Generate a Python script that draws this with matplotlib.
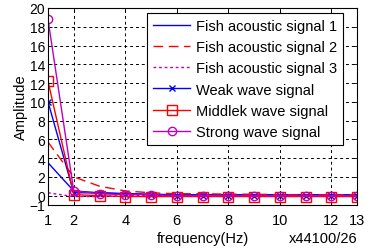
import matplotlib
matplotlib.use("Agg")
import matplotlib.pyplot as plt
import numpy as np

plt.rcParams["font.family"] = ["Liberation Sans", "DejaVu Sans"]
plt.rcParams["font.size"] = 10.5

freq = np.arange(1, 14)
fish1 = [3.5, 0.5, 0.3, 0.2, 0.15, 0.1, 0.1, 0.1, 0.1, 0.1, 0.1, 0.1, 0.1]
fish2 = [5.7, 2.0, 1.0, 0.5, 0.3, 0.2, 0.2, 0.15, 0.15, 0.1, 0.1, 0.1, 0.1]
fish3 = [0.3, -0.1, -0.1, 0.0, 0.0, 0.0, 0.0, 0.0, 0.0, 0.0, 0.0, 0.0, 0.0]
weak = [10.0, 0.3, 0.3, 0.2, 0.1, 0.0, 0.0, 0.0, 0.0, 0.0, 0.0, 0.0, 0.0]
middle = [12.2, 0.1, 0.0, -0.1, -0.1, -0.1, -0.1, -0.1, -0.1, -0.1, -0.1, -0.1, -0.1]
strong = [18.8, 0.5, 0.2, 0.1, 0.1, 0.0, 0.0, 0.0, 0.0, 0.0, 0.0, 0.0, 0.0]

xticks = [1, 2, 4, 6, 8, 10, 12, 13]
yticks = [-1, 0, 2, 4, 6, 8, 10, 12, 14, 16, 18, 20]

fig = plt.figure(figsize=(3.71, 2.53), dpi=100)
ax = fig.add_axes([48 / 371, 1 - 206 / 253, (357 - 48) / 371, (206 - 9) / 253])

ax.plot(freq, fish1, color="blue", lw=1.0, label="Fish acoustic signal 1")
ax.plot(freq, fish2, color="red", lw=1.0, dashes=(7, 4), label="Fish acoustic signal 2")
ax.plot(freq, fish3, color="#bf00bf", lw=1.0, linestyle=(0, (2, 2)), label="Fish acoustic signal 3")
ax.plot(freq, weak, color="blue", lw=1.0, marker="x", ms=4, mew=1.0, label="Weak wave signal")
ax.plot(freq, middle, color="red", lw=1.0, marker="s", ms=7, mfc="none", mew=1.0,
        label="Middlek wave signal")
ax.plot(freq, strong, color="#bf00bf", lw=1.0, marker="o", ms=6, mfc="none", mew=1.0,
        label="Strong wave signal")

ax.set_xlim(1, 13)
ax.set_ylim(-1, 20)
ax.set_xticks(xticks)
ax.set_yticks(yticks)
ax.tick_params(direction="in", top=True, right=True, length=3, width=0.6, labelsize=10.5)
ax.tick_params(axis="x", pad=6)
ax.tick_params(axis="y", pad=2, labelsize=10)
ax.grid(True, color="black", linestyle=(0, (3, 3)), lw=0.7)
for sp in ax.spines.values():
    sp.set_linewidth(0.8)

ax.set_ylabel("Amplitude", labelpad=1)
ax.set_xlabel("frequency(Hz)", labelpad=3)
fig.canvas.draw()
bb = ax.xaxis.label.get_window_extent()
ymid = ax.transAxes.inverted().transform((0, bb.y0 + bb.height / 2))[1]
ax.text(1.0, ymid, "x44100/26", transform=ax.transAxes, ha="right", va="center")

leg = ax.legend(loc="upper right", bbox_to_anchor=(0.965, 0.99), frameon=True,
                fancybox=False, edgecolor="black", framealpha=1, borderaxespad=0.2,
                handlelength=2.6, labelspacing=0.5, borderpad=0.4, handletextpad=0.4)
leg.get_frame().set_linewidth(0.8)

fig.savefig("out.png", dpi=100)
